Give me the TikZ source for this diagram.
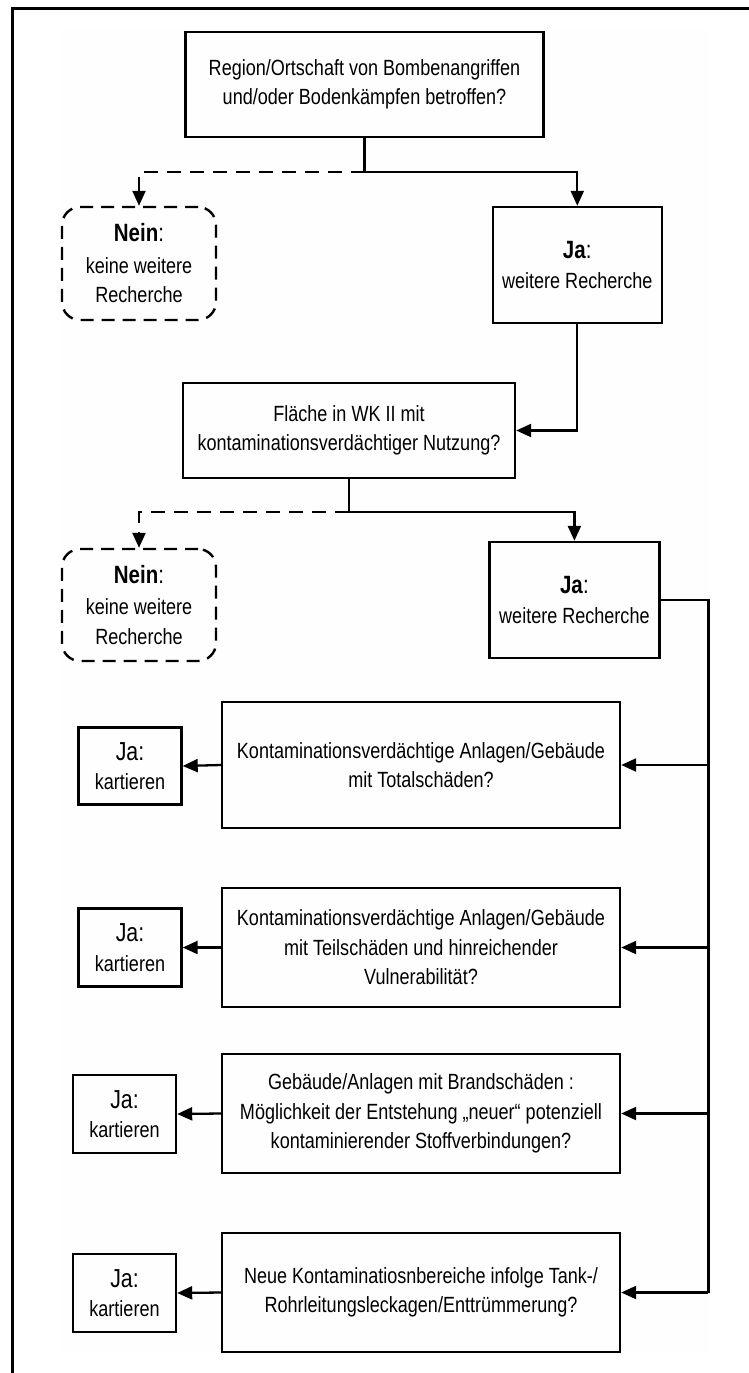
\documentclass[tikz,border=0pt]{standalone}
\usepackage{fontspec}
\setmainfont[FakeStretch=0.82]{Liberation Sans}
\usetikzlibrary{arrows.meta}
\begin{document}
\begin{tikzpicture}[x=1pt,y=-1pt,
  txt/.style={align=center, inner sep=0pt, font=\fontsize{22}{29.5}\selectfont},
  box/.style={txt, draw, line width=2.4pt},
  nobox/.style={txt, draw, line width=2.4pt, dash pattern=on 13pt off 8pt, rounded corners=18pt},
  conn/.style={line width=2.3pt},
  arr/.style={conn, -{Triangle[length=15pt,width=13pt]}},
  dconn/.style={conn, dash pattern=on 14pt off 9pt},
  darr/.style={dconn, -{Triangle[length=15pt,width=13pt]}}
]
\useasboundingbox (0,0) rectangle (749,1373);
% background tint and frame
\fill[black!0.5] (62,30) rectangle (710,1353);
\draw[line width=3pt] (12.5,1373) -- (12.5,8.5) -- (749,8.5);

% nodes
\node[box, minimum width=358pt, minimum height=105pt] (q1) at (364.5,84.5)
  {Region/Ortschaft von Bombenangriffen\\und/oder Bodenkämpfen betroffen?};
\node[nobox, minimum width=154pt, minimum height=113pt] (n1) at (139,263.5)
  {{\fontsize{25}{30}\selectfont\textbf{Nein}:}\\[2pt]keine weitere\\Recherche};
\node[box, minimum width=169pt, minimum height=116pt] (ja1) at (577.3,265)
  {{\fontsize{25}{30}\selectfont\textbf{Ja}:}\\[1pt]weitere Recherche};
\node[box, minimum width=332pt, minimum height=95pt] (q2) at (349,430.5)
  {Fläche in WK II mit\\kontaminationsverdächtiger Nutzung?};
\node[nobox, minimum width=154pt, minimum height=112pt] (n2) at (139,605)
  {{\fontsize{25}{30}\selectfont\textbf{Nein}:}\\[2pt]keine weitere\\Recherche};
\node[box, minimum width=170pt, minimum height=116pt] (ja2) at (574.4,600)
  {{\fontsize{25}{30}\selectfont\textbf{Ja}:}\\[1pt]weitere Recherche};

\node[box, minimum width=398pt, minimum height=126pt] (k1) at (421,765)
  {Kontaminationsverdächtige Anlagen/Gebäude\\mit Totalschäden?};
\node[box, minimum width=398pt, minimum height=119pt] (k2) at (421,947.5)
  {Kontaminationsverdächtige Anlagen/Gebäude\\mit Teilschäden und hinreichender\\Vulnerabilität?};
\node[box, minimum width=398pt, minimum height=119pt] (k3) at (421,1113.5)
  {Gebäude/Anlagen mit Brandschäden :\\Möglichkeit der Entstehung „neuer“ potenziell\\kontaminierender Stoffverbindungen?};
\node[box, minimum width=398pt, minimum height=119pt] (k4) at (421,1292.5)
  {Neue Kontaminatiosnbereiche infolge Tank-/\\Rohrleitungsleckagen/Enttrümmerung?};

\node[box, minimum width=103pt, minimum height=77pt] (kj1) at (130,766)
  {{\fontsize{26}{30}\selectfont Ja:}\\kartieren};
\node[box, minimum width=103pt, minimum height=78pt] (kj2) at (130,947.5)
  {{\fontsize{26}{30}\selectfont Ja:}\\kartieren};
\node[box, minimum width=103pt, minimum height=78pt] (kj3) at (124.5,1114)
  {{\fontsize{26}{30}\selectfont Ja:}\\kartieren};
\node[box, minimum width=103pt, minimum height=78pt] (kj4) at (124.5,1293)
  {{\fontsize{26}{30}\selectfont Ja:}\\kartieren};

% junctions
\coordinate (j1) at (364.5,172);
\coordinate (j2) at (349,512);
\coordinate (sp0) at (708.4,600);
\coordinate (sp1) at (708.4,765);
\coordinate (sp2) at (708.4,947.5);
\coordinate (sp3) at (708.4,1113.5);
\coordinate (sp4) at (708.4,1292.5);

% connectors
\draw[conn] (q1.south) -- (j1);
\draw[darr] (j1) -| (n1.north);
\draw[arr] (j1) -| (ja1.north);
\draw[arr] (ja1.south) |- (q2.east);
\draw[conn] (q2.south) -- (j2);
\draw[darr] (j2) -| (n2.north);
\draw[arr] (j2) -| (ja2.north);
\draw[conn] (ja2.east) -- (sp0) -- (sp4);
\draw[arr] (sp1) -- (k1.east);
\draw[arr] (sp2) -- (k2.east);
\draw[arr] (sp3) -- (k3.east);
\draw[arr] (sp4) -- (k4.east);
\draw[arr] (k1.west) -- (kj1.east);
\draw[arr] (k2.west) -- (kj2.east);
\draw[arr] (k3.west) -- (kj3.east);
\draw[arr] (k4.west) -- (kj4.east);
\end{tikzpicture}
\end{document}
